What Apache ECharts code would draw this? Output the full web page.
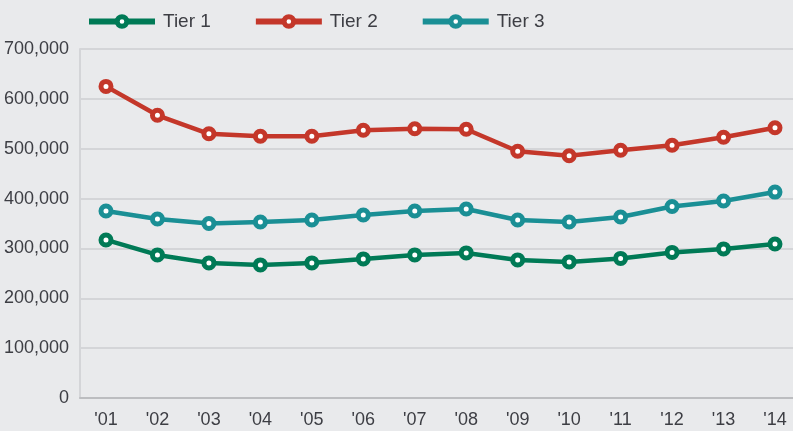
<!DOCTYPE html>
<html>
<head>
<meta charset="utf-8">
<script src="https://cdn.jsdelivr.net/npm/echarts@6/dist/echarts.min.js"></script>
<style>
  html, body { margin: 0; padding: 0; background: #e9eaec; }
  #chart { width: 793px; height: 431px; }
</style>
</head>
<body>
<div id="chart"></div>
<script>
// year labels on the x axis
var years = ["'01", "'02", "'03", "'04", "'05", "'06", "'07", "'08", "'09", "'10", "'11", "'12", "'13", "'14"];
var tier1 = [317000, 287000, 271000, 267000, 271000, 279000, 287000, 291000, 277000, 273000, 280000, 292000, 299000, 309000];
var tier2 = [625000, 567000, 530000, 525000, 525000, 537000, 540000, 539000, 495000, 486000, 497000, 507000, 523000, 542000];
var tier3 = [375000, 359000, 350000, 353000, 357000, 367000, 375000, 379000, 357000, 353000, 363000, 384000, 395000, 413000];

var fontFam = '"Liberation Sans", Arial, sans-serif';
var textCol = '#3d3e44';
var textBase = { fontFamily: fontFam, fontSize: 18, color: textCol };

// pair values with index so the x value axis places them
function pts(arr) {
    return arr.map(function (v, i) { return [i, v]; });
}

function lineSeries(name, color, data) {
    return {
        name: name,
        type: 'line',
        data: pts(data),
        symbol: 'circle',
        symbolSize: 10,
        lineStyle: { color: color, width: 4.5 },
        itemStyle: { color: '#ffffff', borderColor: color, borderWidth: 5 },
        z: 3
    };
}

var chart = echarts.init(document.getElementById('chart'));
chart.setOption({
    backgroundColor: '#e9eaec',
    animation: false,
    legend: {
        left: 81,
        top: 7,
        itemWidth: 66,
        itemHeight: 12,
        itemGap: 42,
        lineStyle: { width: 6 },
        itemStyle: { borderWidth: 5 },
        textStyle: Object.assign({}, textBase, { fontSize: 19, padding: [0, 0, 0, 3] }),
        data: ['Tier 1', 'Tier 2', 'Tier 3']
    },
    grid: { left: 80, right: 0, top: 49, bottom: 33, outerBoundsMode: 'none', containLabel: false },
    xAxis: {
        type: 'value',
        min: -0.505,
        max: 13.35,
        axisLine: { show: true, onZero: false, lineStyle: { color: '#bcbdc0', width: 2 } },
        axisTick: { show: false },
        splitLine: { show: false },
        axisLabel: Object.assign({}, textBase, {
            customValues: years.map(function (y, i) { return i; }),
            formatter: function (v) { return years[Math.round(v)]; },
            margin: 13
        })
    },
    yAxis: {
        type: 'value',
        min: 0,
        max: 700000,
        interval: 100000,
        axisLine: { show: true, onZero: false, lineStyle: { color: '#d4d5d8', width: 2 } },
        axisTick: { show: false },
        splitLine: { lineStyle: { color: '#d4d5d8', width: 2 } },
        axisLabel: Object.assign({}, textBase, {
            margin: 11,
            formatter: function (v) { return v.toLocaleString('en-US'); }
        })
    },
    series: [
        lineSeries('Tier 1', '#007a56', tier1),
        lineSeries('Tier 2', '#c4372a', tier2),
        lineSeries('Tier 3', '#1a8f95', tier3)
    ]
});
window.addEventListener('resize', chart.resize);
</script>
</body>
</html>
